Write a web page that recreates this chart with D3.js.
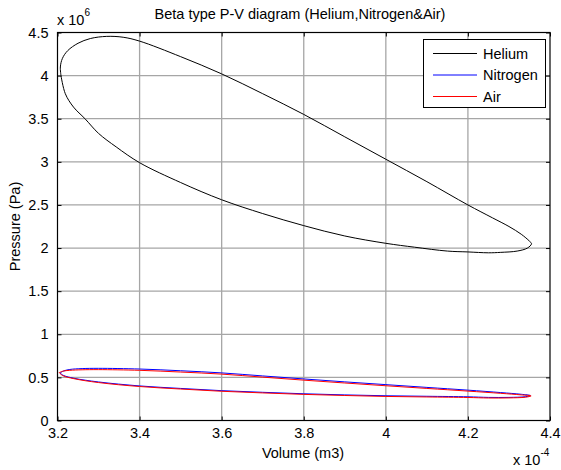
<!DOCTYPE html>
<html>
<head>
<meta charset="utf-8">
<script src="https://cdn.jsdelivr.net/npm/d3@7"></script>
<style>
  body { margin: 0; background: #fff; }
  svg { display: block; font-family: "Liberation Sans", Arial, sans-serif; }
</style>
</head>
<body>
<svg id="chart" width="561" height="470"></svg>
<script>
// volume in 1e-4 m3, pressure in 1e6 Pa
var heliumV = [3.2085, 3.207, 3.212, 3.225, 3.25, 3.28, 3.32, 3.36, 3.4, 3.5, 3.6, 3.7, 3.8, 3.9, 4.0, 4.1, 4.2, 4.26, 4.3, 4.33, 4.35, 4.355, 4.345, 4.32, 4.28, 4.25, 4.2, 4.15, 4.07, 4.0, 3.9, 3.8, 3.7, 3.6, 3.5, 3.4, 3.343, 3.3, 3.267, 3.239, 3.219, 3.2085];
var heliumP = [4.0, 4.1, 4.2, 4.29, 4.375, 4.43, 4.455, 4.445, 4.40, 4.22, 4.02, 3.79, 3.55, 3.29, 3.03, 2.77, 2.50, 2.35, 2.25, 2.16, 2.08, 2.05, 2.0, 1.965, 1.95, 1.945, 1.955, 1.965, 2.01, 2.055, 2.14, 2.26, 2.40, 2.56, 2.76, 2.99, 3.173, 3.33, 3.5, 3.635, 3.79, 4.0];

var nitrogenV = [3.206, 3.215, 3.23, 3.26, 3.3, 3.4, 3.5, 3.6, 3.7, 3.8, 3.9, 4.0, 4.1, 4.2, 4.28, 4.33, 4.352, 4.34, 4.3, 4.25, 4.2, 4.1, 4.0, 3.9, 3.8, 3.7, 3.6, 3.5, 3.4, 3.3, 3.24, 3.215, 3.206];
var nitrogenP = [0.55, 0.575, 0.592, 0.602, 0.605, 0.597, 0.577, 0.552, 0.517, 0.482, 0.448, 0.416, 0.384, 0.352, 0.324, 0.304, 0.29, 0.276, 0.268, 0.268, 0.275, 0.281, 0.287, 0.297, 0.31, 0.327, 0.346, 0.372, 0.401, 0.447, 0.49, 0.522, 0.55];

var airV = [3.204, 3.213, 3.23, 3.26, 3.3, 3.4, 3.5, 3.6, 3.7, 3.8, 3.9, 4.0, 4.1, 4.2, 4.28, 4.33, 4.354, 4.34, 4.3, 4.25, 4.2, 4.1, 4.0, 3.9, 3.8, 3.7, 3.6, 3.5, 3.4, 3.3, 3.24, 3.213, 3.204];
var airP = [0.555, 0.572, 0.582, 0.588, 0.59, 0.582, 0.562, 0.538, 0.503, 0.468, 0.435, 0.403, 0.372, 0.341, 0.315, 0.297, 0.285, 0.27, 0.262, 0.261, 0.267, 0.273, 0.279, 0.29, 0.303, 0.32, 0.339, 0.365, 0.394, 0.44, 0.485, 0.52, 0.555];

var xTicks = [3.2, 3.4, 3.6, 3.8, 4.0, 4.2, 4.4];
var yTicks = [0, 0.5, 1, 1.5, 2, 2.5, 3, 3.5, 4, 4.5];

var series = [
    { name: "Helium", v: heliumV, p: heliumP, color: "#000000" },
    { name: "Nitrogen", v: nitrogenV, p: nitrogenP, color: "#0000ff" },
    { name: "Air", v: airV, p: airP, color: "#ff0000" }
];

var plotL = 57.5, plotR = 550, plotT = 32.5, plotB = 420.5;
var fontSize = "14.5px";

var svg = d3.select("#chart");

var x = d3.scaleLinear().domain([3.2, 4.4]).range([plotL, plotR]);
var y = d3.scaleLinear().domain([0, 4.5]).range([plotB, plotT]);

// grid
svg.append("g").selectAll("line")
    .data(xTicks.slice(1, -1))
    .enter().append("line")
    .attr("x1", d => x(d)).attr("x2", d => x(d))
    .attr("y1", plotT).attr("y2", plotB)
    .style("stroke", "#a6a6a6").style("stroke-width", 1.3);
svg.append("g").selectAll("line")
    .data(yTicks.slice(1, -1))
    .enter().append("line")
    .attr("y1", d => y(d)).attr("y2", d => y(d))
    .attr("x1", plotL).attr("x2", plotR)
    .style("stroke", "#a6a6a6").style("stroke-width", 1.3);

// axes (inner ticks on all four sides)
var gx = svg.append("g").attr("transform", "translate(0," + plotB + ")")
    .call(d3.axisBottom(x).tickValues(xTicks).tickSizeInner(-4).tickSizeOuter(0).tickPadding(7).tickFormat(d3.format("")));
var gxt = svg.append("g").attr("transform", "translate(0," + plotT + ")")
    .call(d3.axisTop(x).tickValues(xTicks).tickSizeInner(-4).tickSizeOuter(0).tickFormat(""));
var gy = svg.append("g").attr("transform", "translate(" + plotL + ",0)")
    .call(d3.axisLeft(y).tickValues(yTicks).tickSizeInner(-4).tickSizeOuter(0).tickPadding(9).tickFormat(d3.format("")));
var gyr = svg.append("g").attr("transform", "translate(" + plotR + ",0)")
    .call(d3.axisRight(y).tickValues(yTicks).tickSizeInner(-4).tickSizeOuter(0).tickFormat(""));

[gx, gxt, gy, gyr].forEach(function (g) {
    g.select(".domain").remove();
    g.selectAll("line").style("stroke", "#000");
    g.selectAll("text").style("font-size", fontSize).style("font-family", "Liberation Sans, Arial, sans-serif").attr("fill", "#000");
});

svg.append("rect")
    .attr("x", plotL).attr("y", plotT)
    .attr("width", plotR - plotL).attr("height", plotB - plotT)
    .style("fill", "none").style("stroke", "#000").style("stroke-width", 1.2);

// curves
var line = d3.line()
    .curve(d3.curveCatmullRom.alpha(0.5))
    .x(d => x(d[0]))
    .y(d => y(d[1]));

svg.append("g").selectAll("path")
    .data(series)
    .enter().append("path")
    .attr("d", s => line(s.v.map((v, i) => [v, s.p[i]])))
    .style("fill", "none")
    .style("stroke", s => s.color)
    .style("stroke-width", 1);

// legend
var lg = svg.append("g");
lg.append("rect")
    .attr("x", 423.5).attr("y", 39.5).attr("width", 122).attr("height", 68)
    .style("fill", "#fff").style("stroke", "#000").style("stroke-width", 1);
var items = lg.selectAll("g").data(series).enter().append("g")
    .attr("transform", (d, i) => "translate(0," + (53 + i * 21.5) + ")");
items.append("line")
    .attr("x1", 433).attr("x2", 477).attr("y1", 0.5).attr("y2", 0.5)
    .style("stroke", d => d.color);
items.append("text")
    .attr("x", 483).attr("y", 5.5)
    .style("font-size", fontSize)
    .text(d => d.name);

// title and labels
svg.append("text")
    .attr("x", 300).attr("y", 19)
    .attr("text-anchor", "middle")
    .style("font-size", fontSize)
    .text("Beta type P-V diagram (Helium,Nitrogen&Air)");

svg.append("text")
    .attr("x", 303).attr("y", 458)
    .attr("text-anchor", "middle")
    .style("font-size", fontSize)
    .text("Volume (m3)");

svg.append("text")
    .attr("transform", "translate(20," + ((plotT + plotB) / 2) + ") rotate(-90)")
    .attr("text-anchor", "middle")
    .style("font-size", fontSize)
    .text("Pressure (Pa)");

// exponent multipliers
var m1 = svg.append("text").attr("x", 57).attr("y", 25).style("font-size", fontSize);
m1.append("tspan").text("x 10");
m1.append("tspan").attr("dy", -9).style("font-size", "10px").text("6");

var m2 = svg.append("text").attr("x", 513).attr("y", 465).style("font-size", fontSize);
m2.append("tspan").text("x 10");
m2.append("tspan").attr("dy", -9).style("font-size", "10px").text("-4");
</script>
</body>
</html>
